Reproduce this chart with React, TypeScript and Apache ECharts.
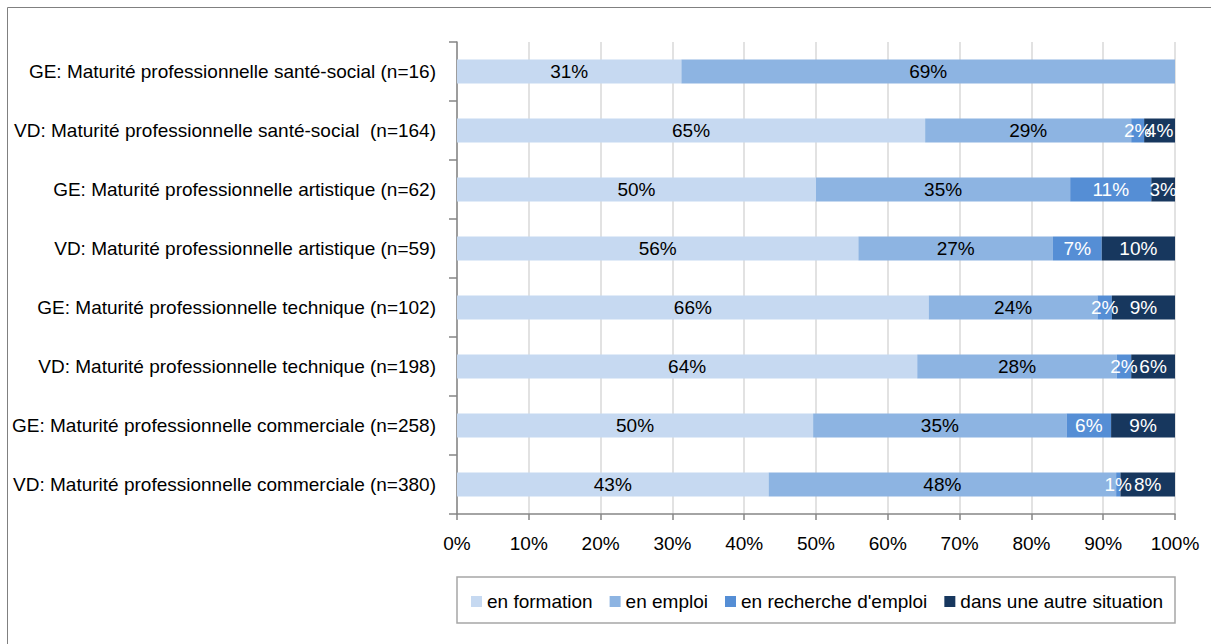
import React, { useEffect, useRef } from "react";
import * as echarts from "echarts";

const categories = [
  "GE: Maturité professionnelle santé-social (n=16)",
  "VD: Maturité professionnelle santé-social  (n=164)",
  "GE: Maturité professionnelle artistique (n=62)",
  "VD: Maturité professionnelle artistique (n=59)",
  "GE: Maturité professionnelle technique (n=102)",
  "VD: Maturité professionnelle technique (n=198)",
  "GE: Maturité professionnelle commerciale (n=258)",
  "VD: Maturité professionnelle commerciale (n=380)",
];

const seriesNames = [
  "en formation",
  "en emploi",
  "en recherche d'emploi",
  "dans une autre situation",
];

const enFormation = [31.25, 65.2, 50.0, 55.9, 65.7, 64.1, 49.6, 43.4];
const enEmploi = [68.75, 28.7, 35.4, 27.1, 23.5, 27.8, 35.3, 48.4];
const enRecherche = [0, 1.8, 11.3, 6.8, 2.0, 2.0, 6.2, 0.6];
const autreSituation = [0, 4.3, 3.3, 10.2, 8.8, 6.1, 8.9, 7.6];

const xTicks = [0, 10, 20, 30, 40, 50, 60, 70, 80, 90, 100];

const colors = ["#C6D9F1", "#8DB4E2", "#558ED5", "#17375E"];
const labelColors = ["#000000", "#000000", "#FFFFFF", "#FFFFFF"];

const FONT = "'Liberation Sans', Arial, sans-serif";
const FS = 19;

export default function App() {
  const ref = useRef<HTMLDivElement>(null);

  useEffect(() => {
    if (!ref.current) return;
    const chart = echarts.init(ref.current, undefined, { renderer: "svg" });
    const allData = [enFormation, enEmploi, enRecherche, autreSituation];
    const series = allData.map((d, i) => ({
      name: seriesNames[i],
      type: "bar" as const,
      stack: "total",
      barWidth: 24,
      data: d,
      itemStyle: { color: colors[i] },
      label: {
        show: true,
        position: "inside" as const,
        color: labelColors[i],
        fontFamily: FONT,
        fontSize: FS,
        formatter: (p: any) => (p.value > 0 ? Math.round(p.value) + "%" : ""),
      },
      emphasis: { disabled: true },
    }));

    chart.setOption({
      animation: false,
      textStyle: { fontFamily: FONT },
      grid: { left: 457, right: 36, top: 42, bottom: 130, containLabel: false },
      xAxis: {
        type: "value",
        min: 0,
        max: 100,
        interval: 10,
        axisLine: { show: true, lineStyle: { color: "#868686", width: 1.5 } },
        axisTick: { show: true, length: 6, lineStyle: { color: "#868686", width: 1.5 } },
        splitLine: { show: true, lineStyle: { color: "#D9D9D9", width: 1.5 } },
        axisLabel: {
          margin: 20,
          color: "#000000",
          fontFamily: FONT,
          fontSize: FS,
          formatter: (v: number) => (xTicks.includes(v) ? v + "%" : ""),
        },
      },
      yAxis: {
        type: "category",
        inverse: true,
        data: categories,
        axisLine: { show: true, lineStyle: { color: "#868686", width: 1.5 } },
        axisTick: { show: true, length: 8, lineStyle: { color: "#868686", width: 1.5 } },
        axisLabel: {
          margin: 21,
          color: "#000000",
          fontFamily: FONT,
          fontSize: FS,
        },
      },
      legend: {
        data: seriesNames,
        left: 466,
        top: 587,
        itemWidth: 11,
        itemHeight: 11,
        itemGap: 17,
        icon: "rect",
        selectedMode: false,
        textStyle: { fontFamily: FONT, fontSize: FS, color: "#000000", padding: [0, 0, 0, 0] },
      },
      graphic: [
        {
          type: "rect",
          shape: { x: 7.5, y: 7.5, width: 1220, height: 660 },
          style: { fill: "none", stroke: "#808080", lineWidth: 1 },
          silent: true,
        },
        {
          type: "rect",
          shape: { x: 457, y: 577, width: 718, height: 46 },
          style: { fill: "none", stroke: "#A6A6A6", lineWidth: 1.5 },
          silent: true,
        },
      ],
      series,
    });
    return () => chart.dispose();
  }, []);

  return (
    <div
      ref={ref}
      style={{ position: "fixed", left: 0, top: 0, width: 1211, height: 644, background: "#fff" }}
    />
  );
}
